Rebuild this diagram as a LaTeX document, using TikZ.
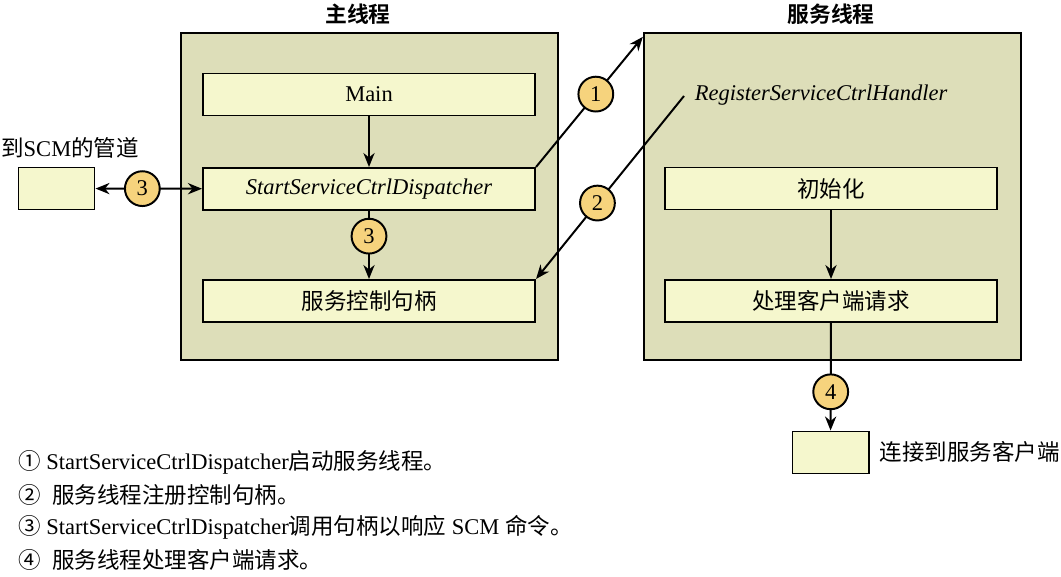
\documentclass[tikz,border=0pt]{standalone}
\usepackage{fontspec}
\setmainfont{Liberation Serif}
\newfontfamily\cjk{Noto Sans CJK SC}[BoldFont={Noto Sans CJK SC Bold}]
\usetikzlibrary{arrows.meta,positioning,calc}
\definecolor{panelfill}{HTML}{DDDEB9}
\definecolor{boxfill}{HTML}{F5F7CD}
\definecolor{dotfill}{HTML}{F6D37D}
\tikzset{
  panel/.style={draw, line width=1.6pt, fill=panelfill, minimum width=9.425cm, minimum height=8.175cm, inner sep=0pt},
  stepbox/.style={draw, line width=1.4pt, fill=boxfill, minimum width=8.3cm, minimum height=1.05cm, inner sep=0pt, font=\fontsize{16}{19}\selectfont},
  endbox/.style={draw, line width=1.4pt, fill=boxfill, minimum width=1.9cm, minimum height=1.05cm, inner sep=0pt},
  numdot/.style={circle, draw, line width=1.4pt, fill=dotfill, minimum size=0.87cm, inner sep=0pt, font=\fontsize{16}{19}\selectfont},
  title/.style={font=\fontsize{15.5}{18}\selectfont\cjk\bfseries},
  legend/.style={anchor=west, inner sep=0pt, font=\fontsize{16}{19}\selectfont},
  arrow/.style={line width=1.4pt, -{Stealth[length=10pt,width=8pt]}}
}

\begin{document}
\begin{tikzpicture}[x=0.025cm,y=-0.025cm]
\useasboundingbox (0,0) rectangle (1061,577);

% the two threads
\node[panel] (mainpanel) at (369.5,196.5) {};
\node[panel] (svcpanel) at (832.5,196.5) {};
\node[title] (maintitle) at (358,14) {主线程};
\node[title] (svctitle) at (831,14) {服务线程};

% main thread
\node[stepbox] (main) at (369,94.5) {Main};
\node[stepbox] (dispatch) at (369,189) {\itshape StartServiceCtrlDispatcher};
\node[stepbox] (handle) at (369,301) {\cjk 服务控制句柄};

% service thread
\node[anchor=west, font=\fontsize{16}{19}\selectfont\itshape] (register) at (690,95) {RegisterServiceCtrlHandler};
\coordinate (regtail) at (684,96);
\node[stepbox] (init) at (831,188.5) {\cjk 初始化};
\node[stepbox] (serve) at (831,301) {\cjk 处理客户端请求};

% outside ends
\node[endbox] (pipe) at (56.5,188.5) {};
\node[font=\fontsize{16}{19}\selectfont] (pipelabel) at (70,148) {{\cjk 到}SCM{\cjk 的管道}};
\node[endbox] (client) at (830.5,452.5) {};
\node[anchor=west, font=\fontsize{16}{19}\selectfont\cjk] (clientlabel) at (875,452) {连接到服务客户端};

% connectors
\draw[arrow] (main) -- (dispatch);
\draw[arrow] (dispatch) -- node[numdot,pos=0.37]{3} (handle);
\draw[arrow, {Stealth[length=10pt,width=8pt]}-{Stealth[length=10pt,width=8pt]}] (pipe) -- node[numdot,pos=0.44]{3} (dispatch);
\draw[arrow] (dispatch.north east) -- node[numdot,pos=0.56]{1} ($(svcpanel.north west)+(0,5)$);
\draw[arrow] (regtail) -- node[numdot,pos=0.585]{2} (handle.north east);
\draw[arrow] (init) -- (serve);
\draw[arrow] (serve) -- node[numdot,pos=0.64]{4} (client);

% notes
\node[legend] (note1) at (18,462) {{\cjk ①} StartServiceCtrlDispatcher{\cjk 启动服务线程。}};
\node[legend] (note2) at (18,495) {{\cjk ②}\ \ {\cjk 服务线程注册控制句柄。}};
\node[legend] (note3) at (18,527) {{\cjk ③} StartServiceCtrlDispatcher{\cjk 调用句柄以响应} SCM {\cjk 命令。}};
\node[legend] (note4) at (18,560) {{\cjk ④}\ \ {\cjk 服务线程处理客户端请求。}};

\end{tikzpicture}
\end{document}
